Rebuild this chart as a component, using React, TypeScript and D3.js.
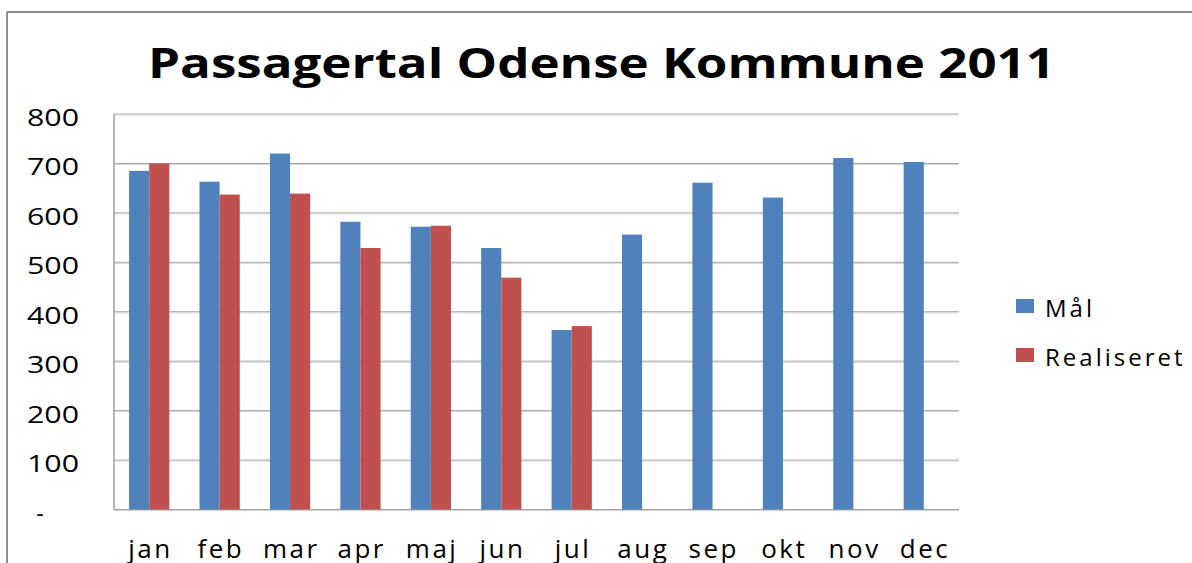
import React from "react";
import * as d3 from "d3";

const months = ["jan", "feb", "mar", "apr", "maj", "jun", "jul", "aug", "sep", "okt", "nov", "dec"];
const seriesNames = ["Mål", "Realiseret"];
const maal = [685, 663, 720, 582, 572, 529, 363, 556, 661, 631, 711, 703];
const realiseret: (number | null)[] = [700, 637, 639, 529, 574, 469, 371, null, null, null, null, null];
const yTicks = [0, 100, 200, 300, 400, 500, 600, 700, 800];
const colors = ["#4f81bd", "#c0504d"];
const title = "Passagertal Odense Kommune 2011";

export default function App() {
  const W = 1192, H = 563;
  const plot = { left: 114, right: 959, top: 114, bottom: 509.5 };
  const x0 = d3.scaleBand<string>().domain(months).range([plot.left, plot.right]).paddingInner(0).paddingOuter(0);
  const x1 = d3.scaleBand<string>().domain(seriesNames).range([0, x0.bandwidth()]).paddingInner(0).paddingOuter(0.75);
  const y = d3.scaleLinear().domain([0, 800]).range([plot.bottom, plot.top]);
  const data = [maal, realiseret];
  const font = "'Open Sans', 'DejaVu Sans', sans-serif";

  return (
    <svg width={W} height={H} style={{ position: "absolute", left: 0, top: 0, background: "#fff" }} fontFamily={font}>
      <rect x={0} y={0} width={W} height={H} fill="#fff" />
      {/* outer chart border */}
      <line x1={7} x2={W} y1={12} y2={12} stroke="#8c8c8c" strokeWidth={2} />
      <line x1={7} x2={7} y1={12} y2={H} stroke="#8c8c8c" strokeWidth={2} />

      <text x={(148 + 1055) / 2} y={78} textAnchor="middle" fontWeight="bold" fontSize={42} textLength={907} lengthAdjust="spacingAndGlyphs" fill="#000">
        {title}
      </text>

      {/* gridlines */}
      {yTicks.map((t) => (
        <g key={t}>
          <line x1={plot.left} x2={plot.right} y1={y(t)} y2={y(t)} stroke="#a0a0a0" strokeWidth={1} />
          <line x1={plot.left} x2={plot.right} y1={y(t) + 1} y2={y(t) + 1} stroke="#d4d4d4" strokeWidth={1} />
        </g>
      ))}
      <line x1={plot.left} x2={plot.left} y1={plot.top} y2={plot.bottom} stroke="#a0a0a0" strokeWidth={1.5} />

      {/* bars */}
      {data.map((vals, si) =>
        vals.map((v, i) =>
          v == null ? null : (
            <rect
              key={`${si}-${i}`}
              x={(x0(months[i]) ?? 0) + (x1(seriesNames[si]) ?? 0)}
              y={y(v)}
              width={x1.bandwidth()}
              height={y(0) - y(v)}
              fill={colors[si]}
            />
          )
        )
      )}

      {/* y labels */}
      {yTicks.map((t) =>
        t === 0 ? (
          <text key={t} x={40} y={y(t) + 12} textAnchor="middle" fontSize={23} fill="#000">-</text>
        ) : (
          <text key={t} x={27} y={y(t) + 12} textAnchor="start" fontSize={23} fill="#000" textLength={52} lengthAdjust="spacingAndGlyphs">
            {String(t)}
          </text>
        )
      )}

      {/* x labels */}
      {months.map((m) => (
        <text key={m} x={(x0(m) ?? 0) + x0.bandwidth() / 2 + 1.25} y={558} textAnchor="middle" fontSize={26} letterSpacing={2.5} fill="#000">
          {m}
        </text>
      ))}

      {/* legend */}
      {seriesNames.map((s, i) => (
        <g key={s}>
          <rect x={1016} y={299 + i * 49} width={18} height={14} fill={colors[i]} />
          <text x={1045} y={317 + i * 49} fontSize={24} letterSpacing={3} fill="#000">{s}</text>
        </g>
      ))}
    </svg>
  );
}
